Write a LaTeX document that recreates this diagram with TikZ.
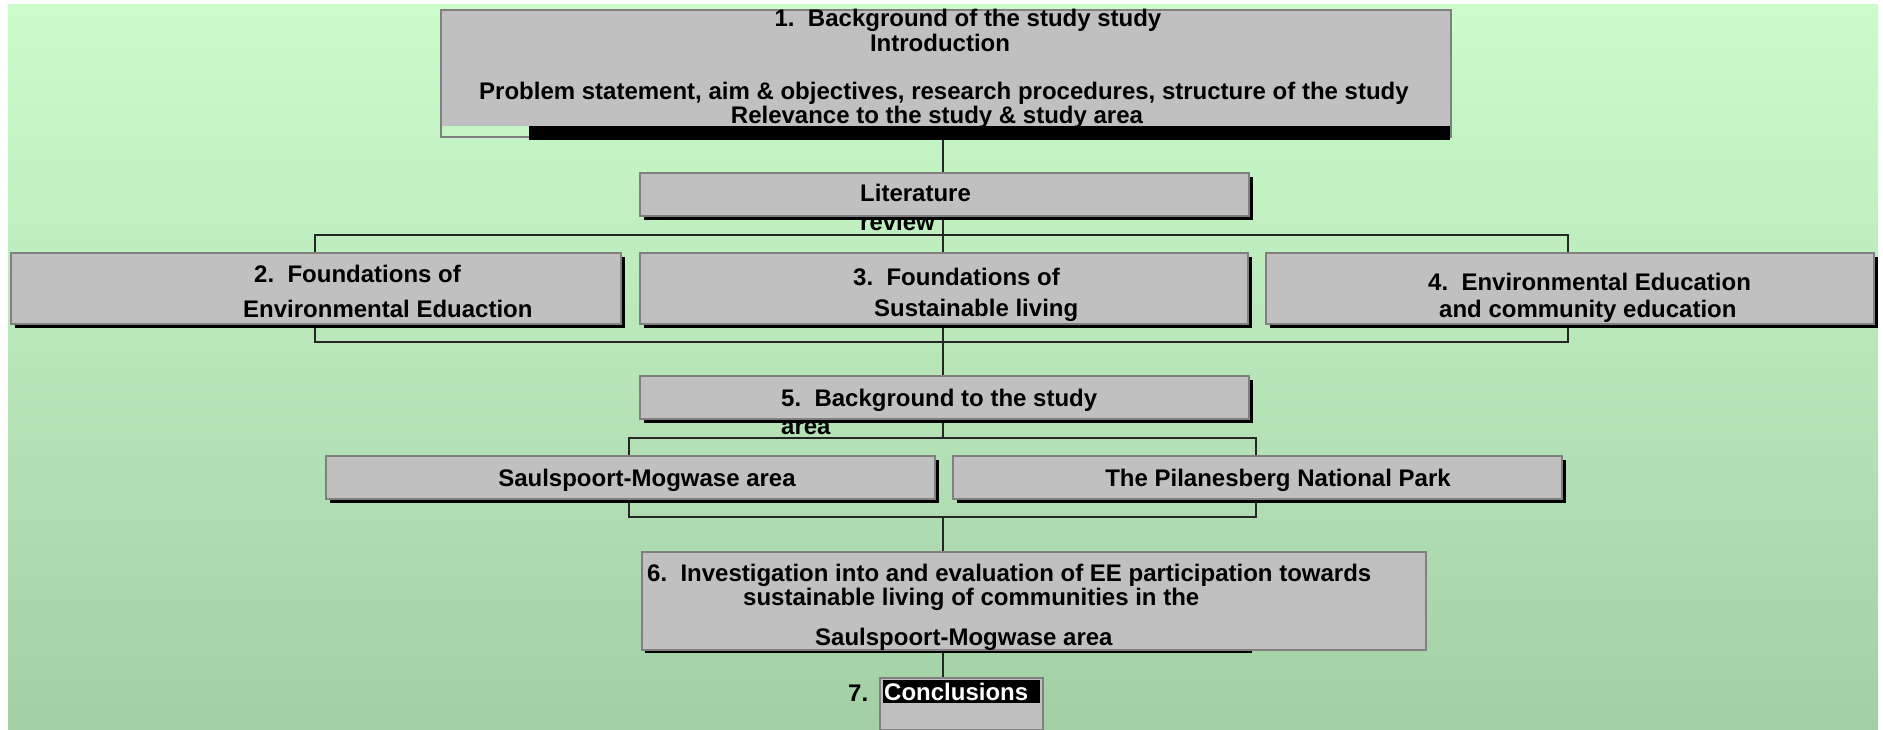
\documentclass[tikz,border=0pt]{standalone}
\usepackage{fontspec}
\setmainfont{Liberation Sans}
\usetikzlibrary{shadows}
\definecolor{boxfill}{RGB}{192,192,192}
\definecolor{boxline}{RGB}{128,128,128}
\definecolor{bgtop}{RGB}{204,252,204}
\definecolor{bgbot}{RGB}{163,207,165}
\pgfdeclarelayer{bg}
\pgfsetlayers{bg,main}
\begin{document}
\begin{tikzpicture}[x=1pt,y=-1pt,
  box/.style={draw=boxline, line width=2pt, fill=boxfill, rectangle, inner sep=0pt, anchor=north west},
  shbox/.style={box, drop shadow={shadow xshift=4pt, shadow yshift=-4pt, fill=black, opacity=1}},
  txt/.style={inner sep=0pt, text height=17.2pt, text depth=0pt, font=\bfseries\fontsize{24}{28}\selectfont},
  lt/.style={txt, anchor=west},
  ct/.style={txt, anchor=center},
  link/.style={draw=black!85, line width=1.4pt}
]
\useasboundingbox (0,0) rectangle (1883,730);

% boxes
\node[box, fill=none, minimum width=1010pt, minimum height=127pt] (b1) at (440,9) {};
\fill[black] (529,126) rectangle (1450,140);
\node[shbox, minimum width=609pt, minimum height=43pt] (lit) at (639,172) {};
\node[shbox, minimum width=610pt, minimum height=71pt] (b2) at (10,252) {};
\node[shbox, minimum width=608pt, minimum height=71pt] (b3) at (639,252) {};
\node[shbox, minimum width=608pt, minimum height=71pt] (b4) at (1265,252) {};
\node[shbox, minimum width=609pt, minimum height=43pt] (b5) at (639,375) {};
\node[shbox, minimum width=609pt, minimum height=43pt] (saul) at (325,455) {};
\node[shbox, minimum width=609pt, minimum height=43pt] (pila) at (952,455) {};
\fill[black] (645,650) rectangle (1252,653);
\node[box, minimum width=784pt, minimum height=98pt] (b6) at (641,551) {};
\node[box, minimum width=163pt, minimum height=52pt] (b7) at (879,677) {};

% texts
\node[ct] (t1a) at (968,18) {1.\ \ Background of the study study};
\node[ct] (t1b) at (940,43) {Introduction};
\node[ct] (t1c) at (944,91) {Problem statement, aim \& objectives, research procedures, structure of the study};
\node[ct] (t1d) at (937,115) {Relevance to the study \& study area};
\node[lt] (tla) at (860,193) {Literature};
\node[lt] (t2a) at (254,274) {2.\ \ Foundations of};
\node[lt] (t2b) at (243,309) {Environmental Eduaction};
\node[lt] (t3a) at (853,277) {3.\ \ Foundations of};
\node[lt] (t3b) at (874,308) {Sustainable living};
\node[lt] (t4a) at (1428,282) {4.\ \ Environmental Education};
\node[lt] (t4b) at (1439,309) {and community education};
\node[lt] (t5a) at (781,398) {5.\ \ Background to the study};
\node[ct] (tsa) at (647,478) {Saulspoort-Mogwase area};
\node[ct] (tpi) at (1278,478) {The Pilanesberg National Park};
\node[lt] (t6a) at (647,573) {6.\ \ Investigation into and evaluation of EE participation towards};
\node[lt] (t6b) at (743,597) {sustainable living of communities in the};
\node[lt] (t6c) at (815,637) {Saulspoort-Mogwase area};
\node[lt] (t7n) at (848,693) {7.};
\node[fill=black, text=white, anchor=north west, inner sep=0pt, minimum height=23pt,
      text width=157pt, align=left, font=\bfseries\fontsize{24}{28}\selectfont] (t7c) at (883,680) {\hspace{1pt}Conclusions};

\coordinate (sp) at (943,0);
\coordinate (k1) at (315,235);
\coordinate (k2) at (1568,235);
\coordinate (k3) at (315,342);
\coordinate (k4) at (1568,342);
\coordinate (k5) at (629,438);
\coordinate (k6) at (1256,438);
\coordinate (k7) at (629,517);
\coordinate (k8) at (1256,517);

\begin{pgfonlayer}{bg}
  \shade[top color=bgtop, bottom color=bgbot] (8,5) rectangle (1878,730);
  \fill[boxfill] (440,9) rectangle (1450,126);
  \draw[link] (b1.south -| sp) -- (lit.north -| sp);
  \draw[link] (lit.south -| sp) -- (b3.north -| sp);
  \draw[link] (b2.north -| k1) -- (k1) -- (k2) -- (b4.north -| k2);
  \draw[link] (b2.south -| k3) -- (k3) -- (k4) -- (b4.south -| k4);
  \draw[link] (b3.south -| sp) -- (b5.north -| sp);
  \draw[link] (b5.south -| sp) -- (k5 -| sp);
  \draw[link] (saul.north -| k5) -- (k5) -- (k6) -- (pila.north -| k6);
  \draw[link] (saul.south -| k7) -- (k7) -- (k8) -- (pila.south -| k8);
  \draw[link] (k7 -| sp) -- (b6.north -| sp);
  \draw[link] (b6.south -| sp) -- (b7.north -| sp);
  \node[lt] (tlb) at (860,222) {review};
  \node[lt] (t5b) at (781,426) {area};
\end{pgfonlayer}
\end{tikzpicture}
\end{document}
